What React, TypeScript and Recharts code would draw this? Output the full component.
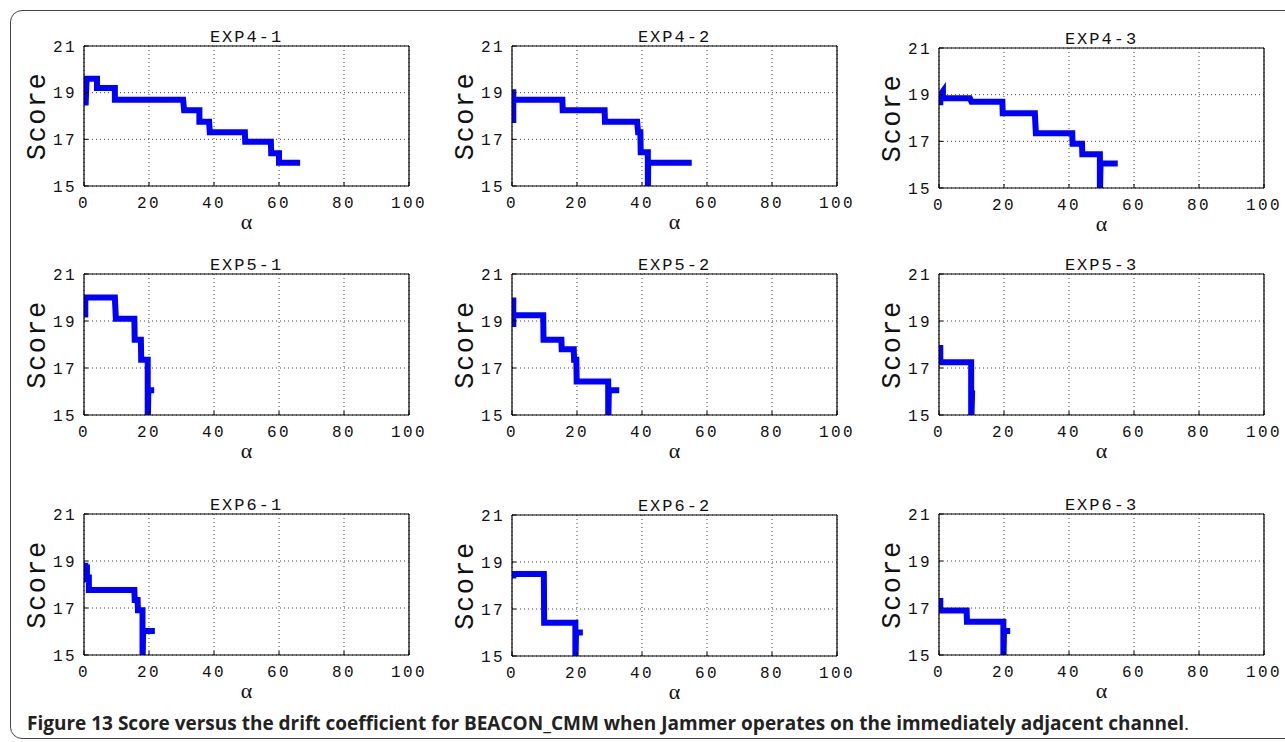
import React from 'react';
import { LineChart, Line, XAxis, YAxis, CartesianGrid } from 'recharts';

// ---- data ----
const X_TICKS = [0, 20, 40, 60, 80, 100];
const Y_TICKS = [15, 17, 19, 21];
const PANEL_TITLES = ['EXP4-1', 'EXP4-2', 'EXP4-3', 'EXP5-1', 'EXP5-2', 'EXP5-3', 'EXP6-1', 'EXP6-2', 'EXP6-3'];

const exp4_1: [number, number][] = [
  [0.5, 18.45], [0.8, 19.6], [4, 19.6], [4, 19.2], [9.5, 19.2], [9.5, 18.7], [30.5, 18.7], [30.8, 18.25],
  [35.5, 18.25], [35.5, 17.75], [38.5, 17.75], [38.7, 17.3], [49.5, 17.3], [49.6, 16.9], [57.5, 16.9],
  [57.6, 16.4], [60, 16.4], [60, 16.0], [66.5, 16.0],
];
const exp4_2: [number, number][] = [
  [0.4, 17.7], [0.4, 19.15], [0.4, 18.7], [15.5, 18.7], [15.6, 18.25], [28.5, 18.25], [28.6, 17.75],
  [38.5, 17.75], [38.8, 17.3], [39.5, 17.3], [39.6, 16.45], [41.8, 16.45], [41.8, 14.5], [41.9, 16.0], [55.3, 16.0],
];
const exp4_3: [number, number][] = [
  [0.4, 18.55], [0.4, 19.0], [1.2, 19.15], [1.2, 18.85], [9.5, 18.85], [10, 18.7], [19.5, 18.7], [19.6, 18.2],
  [29.5, 18.2], [29.8, 17.35], [41, 17.35], [41.1, 16.9], [44, 16.9], [44.1, 16.45], [49.5, 16.45],
  [49.5, 14.5], [49.7, 16.05], [55, 16.05],
];
const exp5_1: [number, number][] = [
  [0.4, 19.15], [0.4, 20.0], [9.5, 20.0], [9.8, 19.1], [15.5, 19.1], [15.6, 18.2], [17.5, 18.2],
  [17.6, 17.35], [19.6, 17.35], [19.6, 14.5], [19.8, 16.05], [21.6, 16.05],
];
const exp5_2: [number, number][] = [
  [0.4, 18.75], [0.4, 20.0], [0.4, 19.25], [9.6, 19.25], [9.7, 18.2], [15.2, 18.2], [15.3, 17.8], [19, 17.8],
  [19.1, 17.35], [19.8, 17.35], [19.9, 16.43], [29.6, 16.43], [29.6, 14.5], [29.8, 16.05], [33, 16.05],
];
const exp5_3: [number, number][] = [
  [0.4, 17.98], [0.4, 17.25], [9.9, 17.25], [9.9, 14.5], [10.2, 16.05],
];
const exp6_1: [number, number][] = [
  [0.4, 18.93], [0.4, 18.1], [0.9, 18.85], [0.9, 18.3], [1.5, 18.3], [1.5, 17.77], [15.5, 17.77],
  [15.6, 17.34], [16.5, 17.34], [16.6, 16.9], [18, 16.9], [18, 14.5], [18.2, 16.02], [21.8, 16.02],
];
const exp6_2: [number, number][] = [
  [0.4, 18.3], [0.4, 18.49], [9.8, 18.49], [9.9, 16.42], [19.5, 16.42], [19.5, 14.5], [19.7, 16.0], [21.8, 16.0],
];
const exp6_3: [number, number][] = [
  [0.4, 16.79], [0.4, 17.43], [0.4, 16.89], [8.5, 16.89], [8.6, 16.41], [19.8, 16.41], [19.8, 14.5],
  [20, 16.02], [21.9, 16.02],
];
const SERIES = [exp4_1, exp4_2, exp4_3, exp5_1, exp5_2, exp5_3, exp6_1, exp6_2, exp6_3];

const CAPTION_BOLD =
  'Figure 13 Score versus the drift coefficient for BEACON_CMM when Jammer operates on the immediately adjacent channel';

// ---- layout ----
const COL_LEFT = [84, 512, 939];
const ROW_TOP = [
  [46, 46, 48],
  [274, 274, 274],
  [514, 515, 514],
];
const PLOT_W = 325;
const PLOT_H = [140, 141, 141];

const MONO = "'Liberation Mono', 'DejaVu Sans Mono', monospace";

function Panel({ title, points, left, top, w, h }: { title: string; points: [number, number][]; left: number; top: number; w: number; h: number }) {
  const data = points.map(([x, y]) => ({ x, y }));
  const YW = 98;
  const MR = 24;
  const MT = 30;
  const XH = 50;
  return (
    <div style={{ position: 'absolute', left: left - YW, top: top - MT - 1 }}>
      <LineChart
        width={YW + w + 1 + MR}
        height={MT + 1 + h + XH}
        data={data}
        margin={{ top: MT, right: MR, bottom: 0, left: 0 }}
      >
        <CartesianGrid stroke="#444" strokeDasharray="1 3" strokeWidth={1} />
        <XAxis
          dataKey="x"
          type="number"
          domain={[0, 100]}
          ticks={X_TICKS}
          interval={0}
          allowDataOverflow
          height={XH}
          axisLine={{ stroke: '#000', strokeWidth: 1.2 }}
          tickLine={{ stroke: '#000' }}
          tickSize={-4}
          tickMargin={15}
          tick={{ fontFamily: MONO, fontSize: 16, fill: '#111' }}
          label={{ value: 'α', position: 'insideBottom', offset: 7, style: { fontFamily: "'Liberation Serif', serif", fontSize: 22, fill: '#111' } }}
        />
        <XAxis
          xAxisId="top"
          orientation="top"
          type="number"
          domain={[0, 100]}
          ticks={X_TICKS}
          interval={0}
          height={1}
          axisLine={{ stroke: '#000', strokeWidth: 1.2 }}
          tickLine={{ stroke: '#000' }}
          tickSize={-4}
          tick={false}
          label={{ value: title, position: 'top', offset: 3, style: { fontFamily: MONO, fontSize: 17, fill: '#111', letterSpacing: '2px' } }}
        />
        <YAxis
          type="number"
          domain={[15, 21]}
          ticks={Y_TICKS}
          interval={0}
          allowDataOverflow
          width={YW}
          axisLine={{ stroke: '#000', strokeWidth: 1.2 }}
          tickLine={{ stroke: '#000' }}
          tickSize={-4}
          tickMargin={11}
          tick={{ fontFamily: MONO, fontSize: 16, fill: '#111' }}
          label={{ value: 'Score', angle: -90, position: 'center', style: { fontFamily: MONO, fontSize: 27, fill: '#111', letterSpacing: '1.5px' } }}
        />
        <YAxis
          yAxisId="right"
          orientation="right"
          type="number"
          domain={[15, 21]}
          ticks={Y_TICKS}
          interval={0}
          width={1}
          axisLine={{ stroke: '#000', strokeWidth: 1.2 }}
          tickLine={{ stroke: '#000' }}
          tickSize={-4}
          tick={false}
        />
        <Line
          type="linear"
          dataKey="y"
          stroke="#0000ff"
          strokeWidth={6}
          strokeLinejoin="miter"
          strokeLinecap="butt"
          dot={false}
          activeDot={false}
          isAnimationActive={false}
        />
      </LineChart>
    </div>
  );
}

export default function App() {
  return (
    <div style={{ position: 'absolute', left: 0, top: 0, width: 1285, height: 742, overflow: 'hidden', background: '#fff' }}>
      <style>{`.recharts-cartesian-axis-tick-value { letter-spacing: 2.4px; }`}</style>
      <div
        style={{
          position: 'absolute',
          left: 10,
          top: 10,
          width: 1300,
          height: 729,
          border: '1.5px solid #444',
          borderRadius: 12,
          boxSizing: 'border-box',
        }}
      />
      {SERIES.map((pts, i) => {
        const r = Math.floor(i / 3);
        const c = i % 3;
        return (
          <Panel key={i} title={PANEL_TITLES[i]} points={pts} left={COL_LEFT[c]} top={ROW_TOP[r][c]} w={PLOT_W} h={PLOT_H[r]} />
        );
      })}
      <div
        style={{
          position: 'absolute',
          left: 27,
          top: 712,
          fontFamily: "'Open Sans', 'Noto Sans', sans-serif",
          fontSize: 19,
          fontWeight: 700,
          color: '#222',
          whiteSpace: 'nowrap',
          lineHeight: '22px',
        }}
      >
        {CAPTION_BOLD}
        <span style={{ fontWeight: 400 }}>.</span>
      </div>
    </div>
  );
}
